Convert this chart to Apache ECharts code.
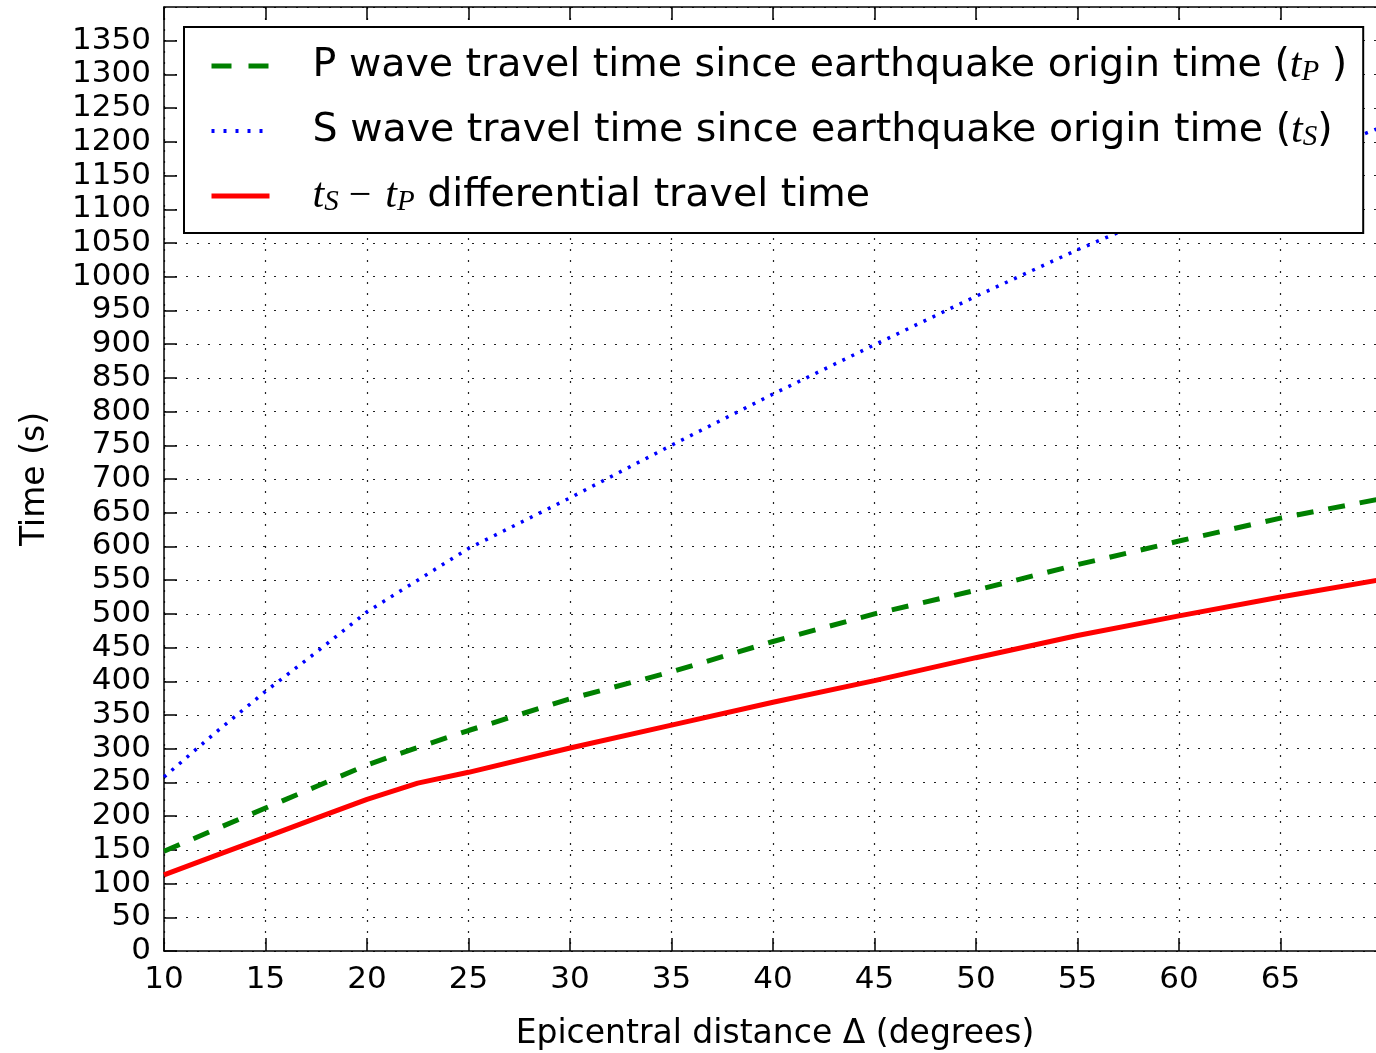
<!DOCTYPE html>
<html>
<head>
<meta charset="utf-8">
<script src="https://cdn.jsdelivr.net/npm/echarts@6/dist/echarts.min.js"></script>
<style>
html,body{margin:0;padding:0;background:#fff;}
#chart{width:1376px;height:1053px;}
</style>
</head>
<body>
<div id="chart"></div>
<script>
// Epicentral distance (degrees)
const distance = [10, 12.5, 15, 17.5, 20, 22.5, 25, 30, 35, 40, 45, 50, 55, 60, 65, 70];
// P wave travel time (s)
const pTime = [148, 180, 212, 244, 276, 302, 327, 374, 414, 459, 500, 535, 573, 608, 642, 671];
// S wave travel time (s)
const sTime = [258, 323, 385, 443, 503, 550, 597, 672, 750, 826, 899, 971, 1040, 1104, 1164, 1222];
// tS - tP differential travel time (s)
const diffTime = [113, 141, 169, 197, 225, 249, 265, 301, 335, 369, 401, 435, 468, 497, 525, 551];

const yTicks = {min: 0, max: 1400, interval: 50};
const xTicks = {min: 10, max: 70, interval: 5};

function pairs(xs, ys) { return xs.map((x, i) => [x, ys[i]]); }

const FONT = 'DejaVu Sans';
const chart = echarts.init(document.getElementById('chart'), null, {renderer: 'canvas'});

const gridDot = {color: '#222', width: 1.2, type: [2, 9]};
const axisBlack = {color: '#000', width: 1.5};

const legendRich = {
  n: {fontFamily: FONT, fontSize: 39.5, lineHeight: 42, color: '#000'},
  it: {fontFamily: 'Liberation Serif', fontStyle: 'italic', fontSize: 42, lineHeight: 42, color: '#000'},
  sub: {fontFamily: 'Liberation Serif', fontStyle: 'italic', fontSize: 29, lineHeight: 24, color: '#000', verticalAlign: 'bottom'},
  m: {fontFamily: 'Liberation Serif', fontSize: 40, lineHeight: 42, color: '#000', padding: [0, 14, 0, 10]}
};

const legendText = {
  P: '{n|P wave travel time since earthquake origin time (}{it|t}{sub|P}{n| )}',
  S: '{n|S wave travel time since earthquake origin time (}{it|t}{sub|S}{n|)}',
  D: '{it|t}{sub|S}{m|\u2212}{it|t}{sub|P}{n| differential travel time}'
};

chart.setOption({
  animation: false,
  backgroundColor: '#fff',
  grid: {left: 164, top: 7, bottom: 102, right: -6, show: false, containLabel: false, outerBoundsMode: 'none'},
  legend: {
    show: true,
    orient: 'vertical',
    left: 184, top: 27,
    padding: [18, 16, 16, 25],
    itemGap: 23,
    itemWidth: 58, itemHeight: 14,
    backgroundColor: '#fff',
    borderColor: '#000', borderWidth: 2,
    data: [
      {name: 'P', itemStyle: {opacity: 0}, lineStyle: {color: '#008000', width: 5, type: [20, 17]}},
      {name: 'S', itemStyle: {opacity: 0}, lineStyle: {color: '#0000ff', width: 4, type: [3, 9]}},
      {name: 'D', itemStyle: {opacity: 0}, lineStyle: {color: '#ff0000', width: 5, type: 'solid'}}
    ],
    formatter: function (name) { return legendText[name]; },
    textStyle: {padding: [0, 0, 0, 38], rich: legendRich}
  },
  xAxis: [
    {
      type: 'value', position: 'bottom',
      min: xTicks.min, max: xTicks.max, interval: xTicks.interval,
      name: 'Epicentral distance \u0394 (degrees)', nameLocation: 'middle', nameGap: 67,
      nameTextStyle: {fontFamily: FONT, fontSize: 33, color: '#000', padding: [0, 0, 0, 4], verticalAlign: 'top'},
      axisLine: {show: true, onZero: false, lineStyle: axisBlack},
      axisTick: {show: true, inside: true, length: 13, lineStyle: axisBlack},
      axisLabel: {fontFamily: FONT, fontSize: 31, color: '#000', margin: 13, showMaxLabel: false, formatter: v => String(v)},
      splitLine: {show: true, lineStyle: gridDot}
    },
    {
      type: 'value', position: 'top',
      min: xTicks.min, max: xTicks.max, interval: xTicks.interval,
      axisLine: {show: true, onZero: false, lineStyle: axisBlack},
      axisTick: {show: true, inside: true, length: 13, lineStyle: axisBlack},
      axisLabel: {show: false},
      splitLine: {show: false}
    }
  ],
  yAxis: {
    type: 'value',
    min: yTicks.min, max: yTicks.max, interval: yTicks.interval,
    name: 'Time (s)', nameLocation: 'middle', nameGap: 112, nameRotate: 90,
    nameTextStyle: {fontFamily: FONT, fontSize: 33, color: '#000'},
    axisLine: {show: true, onZero: false, lineStyle: axisBlack},
    axisTick: {show: true, inside: true, length: 13, lineStyle: axisBlack},
    axisLabel: {fontFamily: FONT, fontSize: 31, color: '#000', margin: 13, showMaxLabel: false, formatter: v => String(v)},
    splitLine: {show: true, lineStyle: gridDot}
  },
  series: [
    {
      name: 'P', type: 'line', xAxisIndex: 0, data: pairs(distance, pTime),
      showSymbol: false, symbol: 'none',
      lineStyle: {color: '#008000', width: 5, type: [17, 15], cap: 'butt'},
      itemStyle: {color: '#008000'}
    },
    {
      name: 'S', type: 'line', xAxisIndex: 0, data: pairs(distance, sTime),
      showSymbol: false, symbol: 'none',
      lineStyle: {color: '#0000ff', width: 3.5, type: [3, 7], cap: 'butt'},
      itemStyle: {color: '#0000ff'}
    },
    {
      name: 'D', type: 'line', xAxisIndex: 0, data: pairs(distance, diffTime),
      showSymbol: false, symbol: 'none',
      lineStyle: {color: '#ff0000', width: 5, type: 'solid'},
      itemStyle: {color: '#ff0000'}
    }
  ]
});
</script>
</body>
</html>
